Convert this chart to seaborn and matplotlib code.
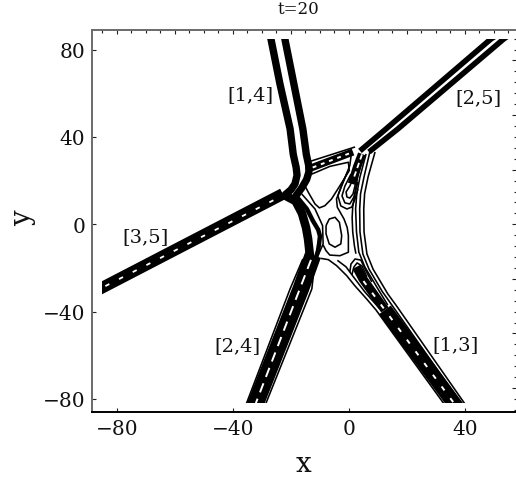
import matplotlib
matplotlib.use("Agg")
import matplotlib.pyplot as plt
from matplotlib.patches import Rectangle
import pandas as pd
import seaborn as sns

# ---- soliton stems (data units) ----
stem14_left = [(-27.8, 90), (-26.9, 84.9), (-23.8, 64.3), (-20.3, 43.7), (-19.2, 32), (-18.2, 26), (-17.9, 22.5), (-18.6, 18.5), (-20, 15.8), (-22, 13.5)]
stem14_right = [(-23, 90), (-22.1, 84.9), (-19.0, 64.3), (-15.9, 43.7), (-14.7, 32), (-13.9, 27), (-13.8, 24), (-14.6, 20.5), (-16.2, 16.8), (-18.3, 13.0)]
stem25_upper = [(55, 90), (49.0, 84.9), (12.8, 43.7), (3.8, 33.6)]
stem25_lower = [(59, 90), (53.4, 84.9), (16.9, 43.7), (6.9, 33.1)]
stem35_core = [(-90, -32.4), (-85.2, -29.1), (-22.8, 13.9)]
stem35_dash = [(-84, -28.3), (-25, 11.7)]
stem24_core = [(-12.4, -14.1), (-16.6, -29.6), (-32.1, -81.9), (-34.8, -91)]
stem24_dash = [(-13.1, -16.3), (-32.1, -81.9)]
strand24_left = [(-21.5, 12.8), (-18.4, 10.6), (-16.2, 5), (-14.8, -1.5), (-14.1, -6.7), (-13.6, -12.7), (-13.4, -15)]
strand24_right = [(-17.6, 12), (-14.5, 7), (-12.4, 1.5), (-10.6, -2.5), (-10, -5.4), (-10.3, -9), (-10.7, -12.2), (-11.7, -16.8)]
edge24_left = [(-15.9, -15.9), (-20.3, -29.6), (-35.3, -81.9), (-38, -91)]
stem13_core = [(12.4, -39.2), (36.2, -81.9), (41.7, -91.8)]
stem13_neck = [(2.6, -19.5), (4.8, -25), (12.4, -39.2)]
stem13_dash = [(5, -26), (36.2, -81.9)]
link_core = [(-13.1, 25.8), (1.4, 33.1)]
link_dash = [(-12.5, 26), (0.8, 32.8)]
link_upper = [(-14.1, 28.5), (2.1, 35.4)]
branch_core = [(4.5, 32.2), (2.8, 26.3), (1.0, 18.5)]
branch_dash = [(4.5, 32), (1.6, 21)]

# ---- thin level curves ----
fan_1 = [(9, 33.1), (6.6, 21.7), (5.4, 14), (5.1, 7), (5.2, -3.5), (6.2, -13.6), (8.3, -20.5), (13.4, -31.9), (16.2, -37), (39.8, -81.9), (45.5, -91.9)]
fan_2 = [(7.2, 33.1), (5.2, 21.7), (4.0, 14), (3.7, 7), (3.8, -3.5), (4.8, -13.6), (6.9, -20.5), (11.4, -30.6), (14.8, -37), (38.6, -81.9), (44.4, -91.9)]
fan_3 = [(5.9, 32.2), (3.8, 21.7), (2.7, 14), (2.3, 7), (2.6, -3.5), (3.4, -12.7), (5.5, -19.6), (10, -29.6), (13.4, -37)]
fan_4 = [(4.6, 30), (3.0, 21.7), (1.3, 8), (1.1, 3), (1.3, -3.5), (1.9, -10), (2.4, -13.5)]
oval = [(-7.9, -0.6), (-6.8, 2.4), (-4.8, 3.2), (-3.3, 0.9), (-2.5, -5.2), (-2.8, -9), (-4.8, -10.5), (-6.8, -9), (-7.9, -4.4), (-7.9, -0.6)]
triangle = [(-14, 22.3), (-6.6, 26.5), (-0.2, 28.4), (0.1, 24.6), (-3.1, 17.7), (-6, 11.6), (-8.3, 8.5), (-10.2, 7.5), (-11.7, 9.3), (-14, 14.6), (-15.2, 17.7), (-14.6, 20.7), (-14, 22.3)]
middle = [(0.9, 33), (0.3, 26.9), (-2, 19.2), (-4.3, 11.6), (-4, 7.8), (-1.7, 2.4), (-0.6, -1.5), (-0.2, -5.2), (-0.2, -12.8), (-3.1, -14.4), (-6.6, -14.1), (-7.9, -12.1), (-8.9, -9.5)]
edge13_left = [(-9.8, -15.6), (-7.1, -16.2), (-4.3, -18.9), (-0.8, -23.5), (2, -28.1), (6.1, -34.2), (9.3, -39.2), (32.6, -81.9), (38.3, -91.9)]
edge13_inner = [(-4, -16.5), (-1, -19.5), (1.5, -24), (5.5, -31), (10.5, -38.5)]
edge24_right = [(-16.3, 13.9), (-11.7, 7), (-9.1, -0.6), (-8.9, -9), (-10.6, -14.1), (-11.7, -16.7), (-12.8, -29.6), (-28.6, -81.9), (-31.3, -91)]
upper_u1 = [(1.4, 20.8), (0.3, 17.5), (-1, 14.8), (-0.7, 12.5), (0.3, 12), (1.4, 13.9), (2.4, 19.4)]
upper_u2 = [(0.7, 23), (-1.4, 17.5), (-2.4, 13), (-1.4, 9.8), (0.3, 9.3), (1.7, 12.5), (3.1, 19.4)]
upper_u3 = [(-0.3, 24.4), (-2.4, 18.5), (-3.8, 13), (-2.8, 8.4), (-0.7, 7), (1, 7.9), (2.1, 11.6), (3.1, 16.2)]
lower_v1 = [(0.3, -21.9), (0.7, -18.2), (2.1, -15.9), (4.1, -16.4), (5.9, -21.4), (7.9, -26.4)]
lower_v2 = [(1, -23.2), (1.7, -19.6), (2.8, -17.7), (4.5, -19.1), (6.2, -24.1)]

stem_labels = ["[1,4]", "[2,5]", "[3,5]", "[2,4]", "[1,3]"]
label_x = [-34.1, 44.5, -70.3, -38.3, 36.9]
label_y = [59.7, 58.3, -5.4, -55.3, -54.8]
major_x = [-80, -40, 0, 40]
major_y = [-80, -40, 0, 40, 80]

sns.set_theme(style="white")
plt.rcParams["font.family"] = ["DejaVu Serif"]

fig = plt.figure(figsize=(5.16, 4.81), dpi=100)
L, R, T, B = 92, 516, 30.7, 413.3
ax = fig.add_axes([L / 516, 1 - B / 481, (R - L) / 516, (B - T) / 481])
ax.set_xlim(-88.6, 57.6)
ax.set_ylim(-86.1, 89.1)


def draw(curves, lw, color="black", dashes=None, cap="butt"):
    rows = [(i, x, y) for i, c in enumerate(curves) for x, y in c]
    df = pd.DataFrame(rows, columns=["id", "x", "y"])
    before = len(ax.lines)
    sns.lineplot(data=df, x="x", y="y", units="id", estimator=None, sort=False,
                 color=color, linewidth=lw, ax=ax, legend=False)
    for ln in ax.lines[before:]:
        if dashes is not None:
            ln.set_linestyle((0, dashes))
            ln.set_dash_capstyle("butt")
        else:
            ln.set_solid_capstyle(cap)
            ln.set_solid_joinstyle("round")


draw([fan_1, fan_2, fan_3, fan_4, oval, triangle, middle, edge13_left, edge13_inner, edge24_right, edge24_left,
      upper_u1, upper_u2, upper_u3, lower_v1, lower_v2, link_upper], 1.15)
draw([stem14_left, stem14_right], 5.3, cap="round")
draw([stem25_upper, stem25_lower], 4.0)
draw([stem35_core], 8.4)
draw([stem24_core], 12)
draw([strand24_left], 6.2, cap="round")
draw([strand24_right], 3.2, cap="round")
draw([stem13_core], 10.6)
draw([stem13_neck], 6.5)
draw([link_core], 5.2)
draw([branch_core], 6.0)
draw([stem24_dash], 1.4, color="white", dashes=(5, 3.5))
draw([stem13_dash], 1.4, color="white", dashes=(2.5, 5))
draw([stem35_dash], 1.3, color="white", dashes=(2.5, 6))
draw([link_dash], 1.4, color="white", dashes=(2, 2.5))
draw([branch_dash], 1.3, color="white", dashes=(3, 2))

clip = Rectangle((-85.2, -82), 200, 167, transform=ax.transData)
for ln in ax.lines:
    ln.set_clip_path(clip)

ax.set_xlabel("")
ax.set_ylabel("")
ax.set_xticks(major_x)
ax.set_yticks(major_y)
ax.set_xticklabels(["\u221280", "\u221240", "0", "40"])
ax.set_yticklabels(["\u221280", "\u221240", "0", "40", "80"])
ax.tick_params(axis="both", which="major", direction="in", length=3, width=0.8,
               color="#222222", labelsize=14.5, labelcolor="#111111", pad=5, bottom=True, left=True)

for side, col in [("left", "#6a6a6a"), ("top", "#6a6a6a"), ("bottom", "black"), ("right", "none")]:
    ax.spines[side].set_color(col)
    ax.spines[side].set_linewidth(1.4)

top = ax.secondary_xaxis("top")
top.set_xticks([v for v in range(-80, 60, 20)])
top.set_xticks([v for v in range(-85, 60, 5) if v % 20 != 0], minor=True)
top.tick_params(which="major", direction="in", length=3.2, width=0.8, color="#222222", labeltop=False)
top.tick_params(which="minor", direction="in", length=1.8, width=0.8, color="#222222")
top.spines["top"].set_visible(False)

right = ax.secondary_yaxis("right")
right.set_yticks([v for v in range(-75, 90, 25)])
right.set_yticks([v for v in range(-85, 90, 5) if v % 25 != 0], minor=True)
right.tick_params(which="major", direction="in", length=2.6, width=0.8, color="#222222", labelright=False)
right.tick_params(which="minor", direction="in", length=1.4, width=0.8, color="#222222")
right.spines["right"].set_visible(False)

for s, lx, ly in zip(stem_labels, label_x, label_y):
    ax.text(lx, ly, s, ha="center", va="center", fontsize=14, color="#111111")

fig.text(298 / 516, 1 - 9.5 / 481, "t=20", ha="center", va="center", fontsize=12, color="#111111")
fig.text(304 / 516, 1 - 464 / 481, "x", ha="center", va="center", fontsize=20, color="#111111")
fig.text(23 / 516, 1 - 218 / 481, "y", ha="center", va="center", rotation=90, fontsize=20, color="#111111")

fig.savefig("out.png", dpi=100)
